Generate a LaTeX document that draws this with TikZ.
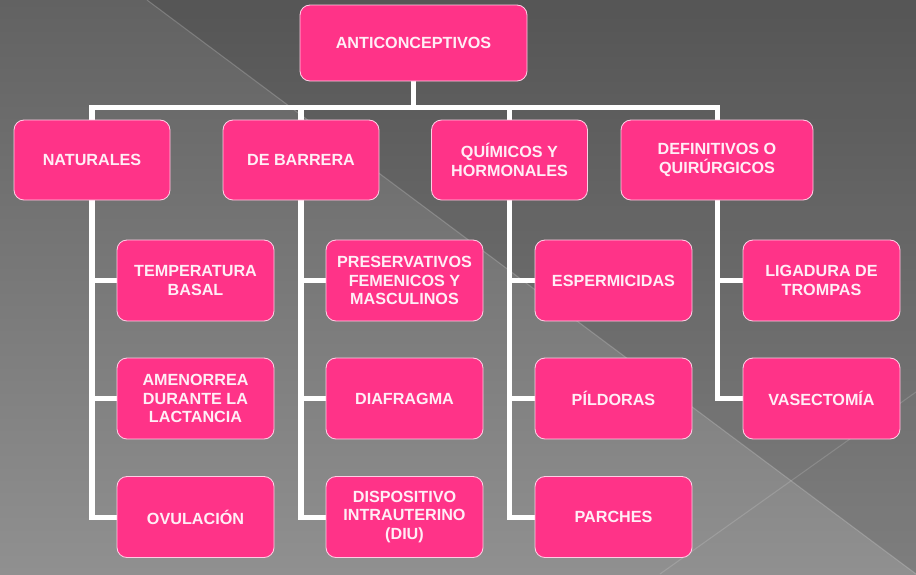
\documentclass[tikz,border=0pt]{standalone}
\usepackage{fontspec}
\setmainfont{Liberation Sans}
\usetikzlibrary{positioning,calc,backgrounds}
\definecolor{boxpink}{RGB}{255,51,136}
\definecolor{boxline}{RGB}{255,205,228}
\definecolor{boxtext}{RGB}{255,238,246}
\definecolor{bgtop}{RGB}{98,98,98}
\definecolor{bgbot}{RGB}{144,144,144}

\begin{document}
\begin{tikzpicture}[thick,
    box/.style={rectangle,rounded corners=0.2cm,fill=boxpink,draw=boxline,line width=0.5pt,
                text=boxtext,align=center,inner sep=2pt,
                font=\fontsize{9.2}{10.6}\selectfont\bfseries},
    root node/.style={box,minimum width=4.54cm,minimum height=1.52cm},
    main node/.style={box,minimum width=3.12cm,minimum height=1.6cm},
    leaf node/.style={box,minimum width=3.14cm,minimum height=1.62cm},
    link/.style={white,line width=2.85pt}
  ]
  \useasboundingbox (0,0) rectangle (18.32,-11.48);

  \node[root node] (anti) at (8.27,-0.86) {ANTICONCEPTIVOS};

  \node[main node] (nat)  at (1.84,-3.2)  {NATURALES};
  \node[main node] (barr) at (6.02,-3.2)  {DE BARRERA};
  \node[main node] (quim) at (10.19,-3.2) {QUÍMICOS Y\\HORMONALES};
  \node[main node,minimum width=3.84cm] (defi) at (14.34,-3.2) {DEFINITIVOS O\\QUIRÚRGICOS};

  \node[leaf node] (temp) at (3.91,-5.61)  {TEMPERATURA\\BASAL};
  \node[leaf node] (amen) at (3.91,-7.97)  {AMENORREA\\DURANTE LA\\LACTANCIA};
  \node[leaf node] (ovul) at (3.91,-10.34) {OVULACIÓN};
  \node[leaf node] (pres) at (8.09,-5.61)  {PRESERVATIVOS\\FEMENICOS Y\\MASCULINOS};
  \node[leaf node] (diaf) at (8.09,-7.97)  {DIAFRAGMA};
  \node[leaf node] (disp) at (8.09,-10.34) {DISPOSITIVO\\INTRAUTERINO\\(DIU)};
  \node[leaf node] (espe) at (12.27,-5.61)  {ESPERMICIDAS};
  \node[leaf node] (pild) at (12.27,-7.97)  {PÍLDORAS};
  \node[leaf node] (parc) at (12.27,-10.34) {PARCHES};
  \node[leaf node] (liga) at (16.43,-5.61) {LIGADURA DE\\TROMPAS};
  \node[leaf node] (vase) at (16.43,-7.97) {VASECTOMÍA};

  \coordinate (hub) at (8.27,-2.15);

  \begin{scope}[on background layer]
    % slide background
    \shade[top color=bgtop,bottom color=bgbot] (0,0) rectangle (18.32,-11.48);
    \fill[black,opacity=0.12] (2.94,0) -- (18.32,-11.48) -- (18.32,0) -- cycle;
    \draw[white,opacity=0.2,line width=0.6pt] (2.94,0) -- (18.32,-11.48);
    \draw[white,opacity=0.15,line width=0.6pt] (18.32,-7.84) -- (13.2,-11.48);

    \draw[link] (anti) -- (hub);
    \draw[link,line cap=rect] (nat |- hub) -- (defi |- hub);
    \draw[link] (nat |- hub) |- (ovul);
    \draw[link] (nat |- temp) -- (temp);
    \draw[link] (nat |- amen) -- (amen);
    \draw[link] (barr |- hub) |- (disp);
    \draw[link] (barr |- pres) -- (pres);
    \draw[link] (barr |- diaf) -- (diaf);
    \draw[link] (quim |- hub) |- (parc);
    \draw[link] (quim |- espe) -- (espe);
    \draw[link] (quim |- pild) -- (pild);
    \draw[link] (defi |- hub) |- (vase);
    \draw[link] (defi |- liga) -- (liga);
  \end{scope}
\end{tikzpicture}
\end{document}
